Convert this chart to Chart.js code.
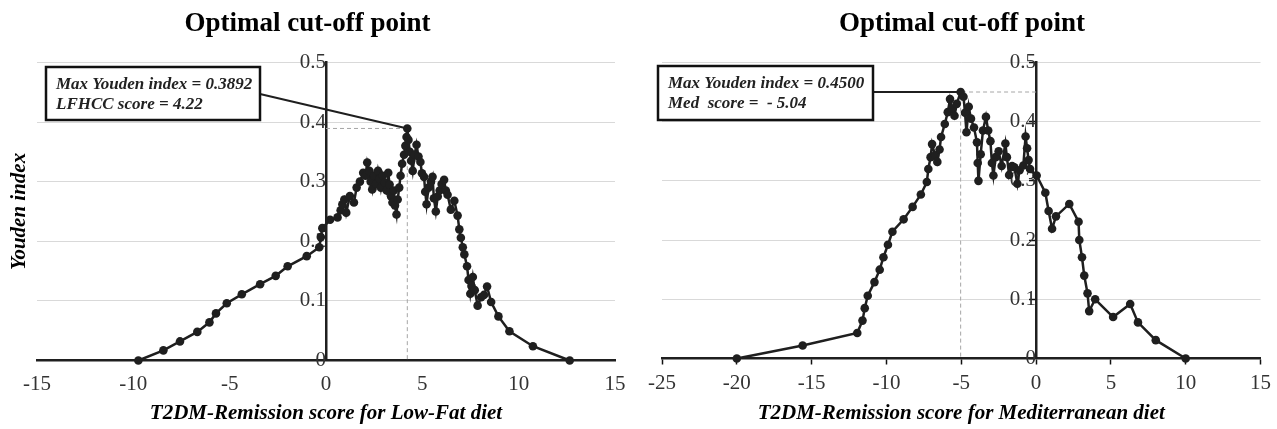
<!DOCTYPE html>
<html><head><meta charset="utf-8">
<script src="https://cdn.jsdelivr.net/npm/chart.js@4.4.1/dist/chart.umd.min.js"></script>
<style>
html,body{margin:0;padding:0;background:#fff;}
#wrap{position:relative;width:1277px;height:429px;overflow:hidden;background:#fff;}
canvas{position:absolute;top:0;}
#c1{left:0;}
#c2{left:638px;}
</style></head><body>
<div id="wrap"><canvas id="c1" width="638" height="429"></canvas><canvas id="c2" width="639" height="429"></canvas></div>
<script>
// ---------------- data ----------------
const chartTitle = 'Optimal cut-off point';
const yAxisTitle = 'Youden index';
const lfXTitle = 'T2DM-Remission score for Low-Fat diet';
const medXTitle = 'T2DM-Remission score for Mediterranean diet';

const lfScore = [-9.74,-8.44,-7.58,-6.68,-6.05,-5.71,-5.15,-4.37,-3.42,-2.61,-1.99,-1.0,-0.35,-0.27,-0.19,0.21,0.6,0.76,0.85,0.95,1.05,1.24,1.45,1.59,1.76,1.93,2.05,2.14,2.25,2.32,2.4,2.5,2.6,2.7,2.78,2.85,2.95,3.05,3.15,3.23,3.3,3.38,3.45,3.52,3.58,3.66,3.72,3.8,3.87,3.95,4.05,4.12,4.18,4.22,4.28,4.35,4.42,4.5,4.6,4.7,4.8,4.9,4.98,5.09,5.15,5.22,5.32,5.45,5.53,5.6,5.7,5.8,5.9,6.0,6.13,6.22,6.31,6.48,6.66,6.83,6.92,7.0,7.1,7.18,7.32,7.4,7.49,7.55,7.62,7.72,7.87,8.05,8.2,8.36,8.57,8.95,9.52,10.74,12.65];
const lfYouden = [0,0.017,0.032,0.048,0.064,0.079,0.096,0.111,0.128,0.142,0.158,0.175,0.19,0.207,0.222,0.236,0.24,0.252,0.262,0.27,0.248,0.276,0.265,0.29,0.3,0.315,0.31,0.332,0.318,0.3,0.287,0.31,0.296,0.318,0.305,0.29,0.31,0.298,0.285,0.315,0.295,0.275,0.265,0.285,0.26,0.245,0.27,0.29,0.31,0.33,0.345,0.36,0.375,0.3892,0.37,0.35,0.335,0.318,0.345,0.362,0.342,0.333,0.314,0.308,0.283,0.262,0.29,0.3,0.308,0.272,0.25,0.275,0.285,0.296,0.303,0.285,0.278,0.253,0.268,0.243,0.22,0.206,0.19,0.178,0.158,0.135,0.112,0.125,0.14,0.118,0.092,0.106,0.11,0.124,0.098,0.074,0.049,0.024,0];

const medScore = [-20,-15.6,-11.95,-11.6,-11.45,-11.25,-10.8,-10.45,-10.2,-9.9,-9.6,-8.85,-8.25,-7.7,-7.3,-7.2,-7.05,-6.95,-6.75,-6.6,-6.45,-6.35,-6.1,-5.9,-5.75,-5.6,-5.45,-5.3,-5.04,-4.85,-4.75,-4.65,-4.5,-4.35,-4.15,-3.95,-3.9,-3.85,-3.7,-3.55,-3.35,-3.2,-3.05,-2.95,-2.85,-2.7,-2.5,-2.3,-2.05,-1.95,-1.8,-1.6,-1.45,-1.25,-1.1,-0.85,-0.7,-0.6,-0.5,-0.4,0.04,0.62,0.84,1.07,1.33,2.22,2.84,2.89,3.07,3.22,3.44,3.55,3.95,5.15,6.29,6.81,8.0,10.0];
const medYouden = [0,0.022,0.043,0.064,0.085,0.106,0.129,0.15,0.171,0.192,0.214,0.235,0.256,0.277,0.298,0.32,0.34,0.362,0.343,0.332,0.353,0.374,0.396,0.416,0.438,0.422,0.41,0.43,0.45,0.442,0.415,0.382,0.425,0.405,0.39,0.365,0.33,0.3,0.345,0.385,0.408,0.385,0.367,0.33,0.309,0.34,0.35,0.325,0.363,0.34,0.31,0.325,0.323,0.295,0.318,0.326,0.375,0.355,0.335,0.32,0.309,0.28,0.249,0.219,0.24,0.261,0.231,0.2,0.171,0.14,0.11,0.08,0.1,0.07,0.092,0.061,0.031,0];

const lfXTicks = ['-15','-10','-5','0','5','10','15'];
const medXTicks = ['-25','-20','-15','-10','-5','0','5','10','15'];
const yTicks = ['0','0.1','0.2','0.3','0.4','0.5'];

const lfPeak = [4.22, 0.3892];
const medPeak = [-5.04, 0.45];
const lfNote = ['Max Youden index = 0.3892', 'LFHCC score = 4.22'];
const medNote = ['Max Youden index = 0.4500', 'Med  score =  - 5.04'];

// ---------------- helpers ----------------
const SERIF = "'Liberation Serif', 'Times New Roman', serif";
const INK = '#1f1f1f';
const pts = (xs, ys) => xs.map((x, i) => ({x, y: ys[i]}));
const guide = p => [{x: 0, y: p[1]}, {x: p[0], y: p[1]}, {x: p[0], y: 0}];
const labelFrom = (labels, min, step) => v => labels[Math.round((v - min) / step)];

const callout = {
  id: 'callout',
  afterDatasetsDraw(chart, args, o) {
    const {ctx, scales} = chart;
    const px = scales.x.getPixelForValue(o.peak[0]);
    const py = scales.y.getPixelForValue(o.peak[1]);
    const b = o.box;
    ctx.save();
    ctx.strokeStyle = INK;
    ctx.lineWidth = 2;
    ctx.beginPath();
    ctx.moveTo(b.x + b.w, o.leaderY == null ? py : o.leaderY);
    ctx.lineTo(px, py);
    ctx.stroke();
    ctx.fillStyle = '#fff';
    ctx.fillRect(b.x, b.y, b.w, b.h);
    ctx.lineWidth = 2.5;
    ctx.strokeStyle = '#111';
    ctx.strokeRect(b.x, b.y, b.w, b.h);
    ctx.fillStyle = '#222';
    ctx.font = 'italic bold 17px ' + SERIF;
    ctx.textBaseline = 'alphabetic';
    ctx.textAlign = 'left';
    o.lines.forEach((t, i) => ctx.fillText(t, b.x + 10, b.y + 22 + i * 20));
    ctx.restore();
  }
};

function makeChart(id, cfg) {
  const scales = {
    x: {
      type: 'linear', position: 'bottom', min: cfg.xmin, max: cfg.xmax,
      ticks: {stepSize: 5, padding: cfg.xTickPad, color: '#333', font: {family: SERIF, size: 21},
              callback: labelFrom(cfg.xTicks, cfg.xmin, 5), maxRotation: 0, autoSkip: false},
      grid: cfg.xTickMarks
        ? {display: true, drawOnChartArea: false, drawTicks: true, tickLength: 6, tickColor: '#111', tickWidth: 1.5}
        : {display: false, drawTicks: false},
      border: {display: true, color: INK, width: 2.5},
      title: {display: true, text: cfg.xTitle, color: '#000',
              font: {family: SERIF, size: 21, weight: 'bold', style: 'italic'}, padding: {top: 0, bottom: 3}},
      afterFit(s) { s.height = cfg.xAxisH; }
    },
    y: {
      type: 'linear', position: {x: 0}, min: 0, max: 0.5,
      ticks: {stepSize: 0.1, padding: cfg.yTickPad, color: '#333', font: {family: SERIF, size: 21},
              callback: labelFrom(yTicks, 0, 0.1)},
      grid: cfg.yTickMarks
        ? {color: '#d9d9d9', lineWidth: 1, drawTicks: true, tickLength: 6, tickColor: '#111', tickWidth: 1.5}
        : {color: '#d9d9d9', lineWidth: 1, drawTicks: false},
      border: {display: true, color: INK, width: 2.5}
    }
  };
  if (cfg.yTitle) {
    scales.yt = {
      type: 'linear', position: 'left', display: true, min: 0, max: 1,
      ticks: {display: false}, grid: {display: false, drawTicks: false}, border: {display: false},
      title: {display: true, text: cfg.yTitle, color: '#000',
              font: {family: SERIF, size: 21, weight: 'bold', style: 'italic'}, padding: {top: 7, bottom: 0}},
      afterFit(s) { s.width = cfg.yTitleW; }
    };
  }
  return new Chart(document.getElementById(id), {
    type: 'scatter',
    data: {
      datasets: [
        {data: pts(cfg.xs, cfg.ys), yAxisID: 'y', showLine: true, borderColor: INK, borderWidth: 2.5,
         pointRadius: 4.3, pointBackgroundColor: INK, pointBorderWidth: 0, tension: 0, clip: false},
        {data: guide(cfg.peak), yAxisID: 'y', showLine: true, borderColor: '#a6a6a6', borderWidth: 1,
         borderDash: [4, 3], pointRadius: 0, clip: false}
      ]
    },
    options: {
      responsive: false, animation: false, devicePixelRatio: 1,
      layout: {padding: cfg.pad},
      scales,
      plugins: {
        legend: {display: false}, tooltip: {enabled: false},
        title: {display: true, text: chartTitle, color: '#000',
                font: {family: SERIF, size: 27, weight: 'bold', lineHeight: 1.2}, padding: {top: 8, bottom: 22}},
        callout: {peak: cfg.peak, box: cfg.box, lines: cfg.note, leaderY: cfg.leaderY}
      }
    },
    plugins: [callout]
  });
}

makeChart('c1', {
  xs: lfScore, ys: lfYouden, peak: lfPeak, note: lfNote,
  xmin: -15, xmax: 15, xTicks: lfXTicks, xTitle: lfXTitle, yTitle: yAxisTitle, yTitleW: 37,
  xTickMarks: false, yTickMarks: false, xTickPad: 11, yTickPad: 19, xAxisH: 68.5,
  pad: {left: 0, right: 23, top: 0, bottom: 0},
  box: {x: 46, y: 67, w: 214, h: 53}, leaderY: 94
});
makeChart('c2', {
  xs: medScore, ys: medYouden, peak: medPeak, note: medNote,
  xmin: -25, xmax: 15, xTicks: medXTicks, xTitle: medXTitle, yTitle: null,
  xTickMarks: true, yTickMarks: true, xTickPad: 6, yTickPad: 13, xAxisH: 70.5,
  pad: {left: 24, right: 15, top: 0, bottom: 0},
  box: {x: 20, y: 66, w: 215, h: 54}, leaderY: null
});
</script>
</body></html>
